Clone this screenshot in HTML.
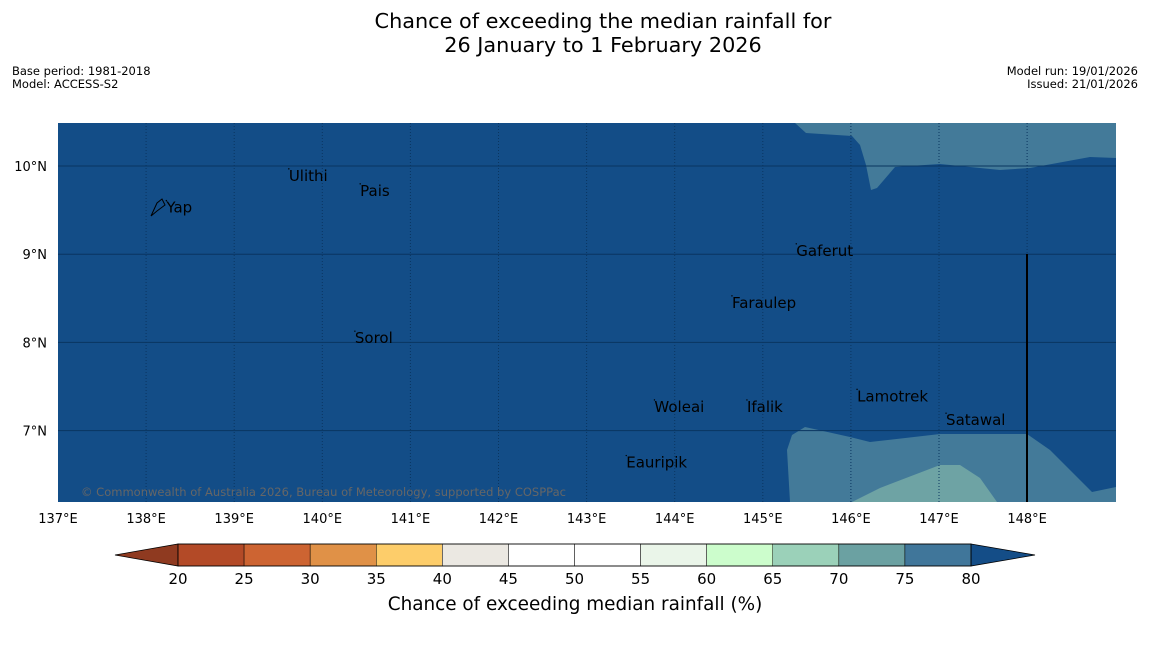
<!DOCTYPE html>
<html><head><meta charset="utf-8"><style>
body{margin:0;background:#fff;font-family:"Liberation Sans","DejaVu Sans",sans-serif;}
</style></head><body>
<svg width="1150" height="644" xmlns="http://www.w3.org/2000/svg" font-family="DejaVu Sans, Liberation Sans, sans-serif">
<text x="603" y="28" font-size="20.8" text-anchor="middle">Chance of exceeding the median rainfall for</text>
<text x="603" y="52" font-size="20.8" text-anchor="middle">26 January to 1 February 2026</text>
<text x="12" y="75" font-size="11.5">Base period: 1981-2018</text>
<text x="12" y="88" font-size="11.5">Model: ACCESS-S2</text>
<text x="1138" y="75" font-size="11.5" text-anchor="end">Model run: 19/01/2026</text>
<text x="1138" y="88" font-size="11.5" text-anchor="end">Issued: 21/01/2026</text>
<g id="map">
<rect x="58" y="123" width="1058" height="379" fill="#134d87"/>
<polygon fill="#437a99" points="795,123 806,133 852,136 860,145 866,165 871,190 877,188 895,167 940,164 1000,170 1030,168 1090,157 1116,158 1116,123"/>
<polygon fill="#437a99" points="790,502 787,450 792,435 805,427 850,437 870,442 940,434 1027,434 1050,450 1092,492 1116,487 1116,502"/>
<polygon fill="#6ea3a4" points="852,502 880,488 940,465 960,465 980,478 997,502"/>
<g id="grid"></g>
<line x1="1027" y1="254" x2="1027" y2="502" stroke="#000" stroke-width="2"/>
<g id="places" font-size="15" fill="#000"></g>
<path d="M151,216 L157,203 L162,199 L165,205 L157,211 Z" fill="none" stroke="#000" stroke-width="1"/>
<text x="81" y="496" font-size="11.5" fill="#666" textLength="485">© Commonwealth of Australia 2026, Bureau of Meteorology, supported by COSPPac</text>
</g>
<g id="axes" font-size="13"></g>
<g id="cbar"></g>
<text x="575" y="610" font-size="18.4" text-anchor="middle">Chance of exceeding median rainfall (%)</text>
</svg>
<script>
const NS="http://www.w3.org/2000/svg";
const lonTicks=[137,138,139,140,141,142,143,144,145,146,147,148];
const latTicks=[10,9,8,7];
const places=["Ulithi","Pais","Yap","Gaferut","Faraulep","Sorol","Lamotrek","Woleai","Ifalik","Satawal","Eauripik"];
const placeLon=[139.62,140.43,138.23,145.38,144.65,140.37,146.07,143.77,144.82,147.08,143.45];
const placeLat=[9.82,9.65,9.46,8.97,8.38,7.98,7.32,7.2,7.2,7.05,6.57];
const cbTicks=[20,25,30,35,40,45,50,55,60,65,70,75,80];
const cbColors=["#b34a27","#cd6432","#e09147","#fdcd6a","#ebe8e2","#ffffff","#ffffff","#eaf5e9","#ccfdcc","#9bd1b9","#6ba1a2","#40769a"];
const xs=l=>58+(l-137)*88.1, ys=l=>166+(10-l)*88.2;
function mk(t,a,p){const e=document.createElementNS(NS,t);for(const k in a)e.setAttribute(k,a[k]);p.appendChild(e);return e;}
const grid=document.getElementById('grid'),axes=document.getElementById('axes');
lonTicks.forEach(l=>{const x=xs(l);
 if(l>137){const g=mk('line',{x1:x,y1:123,x2:x,y2:502,stroke:'#0a3560','stroke-width':1,'stroke-dasharray':'1,2'},grid);
 
 }
 const t=mk('text',{x:x,y:523,'text-anchor':'middle'},axes);t.textContent=l+'°E';
 
 });
latTicks.forEach(l=>{const y=ys(l);
 const g=mk('line',{x1:58,y1:y,x2:1116,y2:y,stroke:'#0a3560','stroke-width':1},grid);
 
 
 const t=mk('text',{x:47,y:y+5,'text-anchor':'end'},axes);t.textContent=l+'°N';
 
 });
const pg=document.getElementById('places');
places.forEach((p,i)=>{const x=xs(placeLon[i]),y=ys(placeLat[i]);
 const t=mk('text',{x:x,y:y-1},pg);t.textContent=p;
 
 
 const d=mk('circle',{cx:x,cy:y-13,r:0.7,fill:'#000'},pg);
 
 });
const cb=document.getElementById('cbar');
const cx=v=>178+(v-20)*(793/60);
const lo=mk('polygon',{points:`115,555 178,544 178,566`,fill:'#8f3a20',stroke:'#000','stroke-width':0.8},cb);


const hi=mk('polygon',{points:`971,544 1035,555 971,566`,fill:'#144d87',stroke:'#000','stroke-width':0.8},cb);


cbColors.forEach((c,i)=>{const x0=cx(cbTicks[i]),x1=cx(cbTicks[i+1]);
 const r=mk('rect',{x:x0,y:544,width:x1-x0,height:22,fill:c,stroke:'#000','stroke-width':0.5},cb);
 
 });
cbTicks.forEach(v=>{const t=mk('text',{x:cx(v),y:584,'text-anchor':'middle','font-size':15},cb);t.textContent=v;
 
 });
mk('rect',{x:178,y:544,width:793,height:22,fill:'none',stroke:'#000','stroke-width':0.8},cb);
</script>
</body></html>
